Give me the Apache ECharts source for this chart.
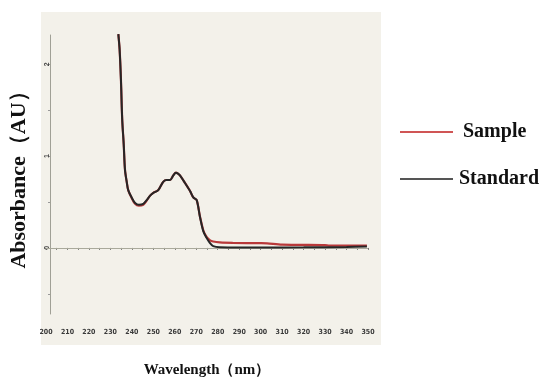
<!DOCTYPE html>
<html><head><meta charset="utf-8">
<script src="https://cdn.jsdelivr.net/npm/echarts@6/dist/echarts.min.js"></script>
<style>html,body{margin:0;padding:0;background:#fff}#c{width:543px;height:378px}</style>
</head><body><div id="c"></div>
<script>
const xTickLabels = [200,210,220,230,240,250,260,270,280,290,300,310,320,330,340,350];
const yTickLabels = [0,1,2];
const wlStandard = [233.7,234.3,234.9,235.5,236.2,236.8,237.6,238.3,239.9,241.5,243.3,245.3,246.9,248.5,250,252.3,254.6,256.2,257.8,259.3,260.5,261.5,262.4,264.7,267.1,268.6,270.2,271.7,273.3,274.8,276.3,277.9,281,290,300,320,340,349.5];
const absStandard = [2.33,2.16,1.84,1.40,1.13,0.85,0.72,0.63,0.55,0.49,0.47,0.48,0.52,0.57,0.60,0.63,0.72,0.74,0.74,0.79,0.82,0.81,0.79,0.71,0.62,0.55,0.52,0.34,0.18,0.11,0.055,0.02,0.008,0.005,0.005,0.006,0.01,0.015];
const wlSample = [233.7,234.3,234.9,235.5,236.2,236.8,237.6,238.3,239.9,241.5,243.3,245.3,246.9,248.5,250,252.3,254.6,256.2,257.8,259.3,260.5,261.5,262.4,264.7,267.1,268.6,270.2,271.7,273.3,274.8,276.3,277.9,281,287,300,303,310,320,330,332,349.5];
const absSample = [2.33,2.16,1.84,1.40,1.13,0.85,0.72,0.63,0.545,0.48,0.46,0.47,0.515,0.57,0.60,0.63,0.72,0.74,0.74,0.79,0.82,0.81,0.79,0.71,0.62,0.55,0.52,0.345,0.19,0.12,0.085,0.07,0.06,0.055,0.052,0.05,0.035,0.033,0.03,0.026,0.026];

const zip = (a,b) => a.map((v,i)=>[v,b[i]]);
const minorTicks = [];
for (let i = 0; i < xTickLabels.length; i++) { minorTicks.push(xTickLabels[i]); if (i < xTickLabels.length-1) minorTicks.push(xTickLabels[i]+5); }

const legendFont = {fontFamily:'Liberation Serif', fontWeight:'bold', fontSize:20, color:'#111'};
const chart = echarts.init(document.getElementById('c'), null, {renderer:'canvas'});
chart.setOption({
  backgroundColor:'#ffffff',
  animation:false,
  graphic:[{type:'rect', z:-10, shape:{x:41,y:12,width:340,height:333}, style:{fill:'#f3f1ea'}}],
  grid:{left:46, right:175, top:35, bottom:64, outerBoundsMode:'none', containLabel:false},
  legend:{
    orient:'vertical', left:395, top:117, itemGap:27,
    icon:'rect', itemWidth:53, itemHeight:2,
    formatter: n => n === 'Sample' ? '{a|' + n + '}' : '{b|' + n + '}',
    textStyle:Object.assign({}, legendFont, {rich:{
      a:Object.assign({}, legendFont, {padding:[0,0,0,5]}),
      b:Object.assign({}, legendFont, {padding:[0,0,0,1]})
    }}),
    data:[{name:'Sample', itemStyle:{color:'#d05555'}},{name:'Standard', itemStyle:{color:'#555555'}}]
  },
  xAxis:{
    type:'value', min:200, max:350,
    name:'Wavelength（nm）', nameLocation:'middle', nameGap:49,
    nameTextStyle:{fontFamily:'Liberation Serif', fontWeight:'bold', fontSize:15, color:'#111'},
    axisLine:{lineStyle:{color:'#8e8e80', width:1}},
    axisTick:{show:true, customValues:minorTicks, length:2, lineStyle:{color:'#777'}},
    axisLabel:{customValues:xTickLabels, fontSize:7, fontWeight:'bold', color:'#3a3a3a', margin:15, fontFamily:'DejaVu Sans Condensed'},
    splitLine:{show:false}
  },
  yAxis:{
    type:'value', min:-0.72, max:2.32, offset:-4,
    name:'Absorbance（AU）', nameLocation:'middle', nameGap:20, nameRotate:90,
    nameTextStyle:{fontFamily:'Liberation Serif', fontWeight:'bold', fontSize:22, color:'#111'},
    axisLine:{show:true, lineStyle:{color:'#a0a096', width:1}},
    axisTick:{show:true, customValues:[-0.5,0,0.5,1,1.5,2], length:2, inside:false, lineStyle:{color:'#999'}},
    axisLabel:{customValues:yTickLabels, fontSize:7, fontWeight:'bold', color:'#444', margin:-1, rotate:90},
    splitLine:{show:false}
  },
  series:[
    {name:'Sample', type:'line', data:zip(wlSample,absSample), showSymbol:false, smooth:0.3,
     lineStyle:{color:'#b8393a', width:2.2}, itemStyle:{color:'#b8393a'},
     markLine:{silent:true, symbol:'none', label:{show:false}, lineStyle:{color:'#a9a99b', width:1.2, type:'solid'}, data:[{yAxis:0}], z:1}},
    {name:'Standard', type:'line', data:zip(wlStandard,absStandard), showSymbol:false, smooth:0.3,
     lineStyle:{color:'#262626', width:2}, itemStyle:{color:'#262626'}}
  ]
});
</script></body></html>
